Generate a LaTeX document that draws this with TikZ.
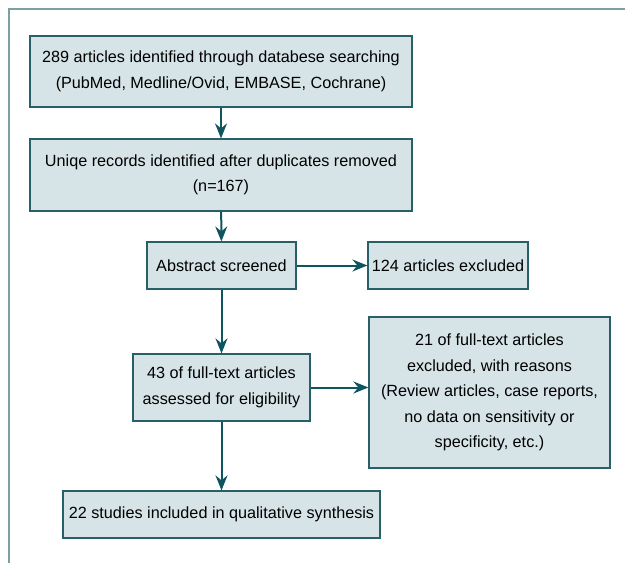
\documentclass[tikz,border=0pt]{standalone}
\usepackage{fontspec}
\setmainfont{Liberation Sans}
\usetikzlibrary{arrows.meta}
\definecolor{framec}{RGB}{122,160,166}
\definecolor{boxfill}{RGB}{214,228,231}
\definecolor{boxline}{RGB}{40,95,105}
\definecolor{arrowc}{RGB}{15,85,95}
\tikzset{
  flownode/.style = {align=center, inner sep=0pt, text centered,
    font=\fontsize{16.2}{25.5}\selectfont},
  fbox/.style = {flownode, rectangle, draw=boxline, fill=boxfill,
    line width=1.2pt},% boite grise
  fbox_w/.style = {fbox, minimum width=382pt, minimum height=71pt},% boite large
  fbox_s/.style = {fbox, minimum height=47pt}% boite basse
}
\begin{document}
\begin{tikzpicture}[x=1pt,y=-1pt,->,>={Stealth[length=15pt,width=12pt,inset=5pt]},
  every edge/.style={draw=arrowc, line width=2pt}]
\useasboundingbox (0,0) rectangle (625,563);
\draw[-, framec, line width=2pt] (8.5,563) -- (8.5,8.5) -- (625,8.5);
\node [fbox_w] (ident) at (221,71.5)
  {289 articles identified through databese searching\\(PubMed, Medline/Ovid, EMBASE, Cochrane)};
\node [fbox_w, minimum height=72pt] (uniq) at (221,175)
  {Uniqe records identified after duplicates removed\\(n=167)};
\node [fbox_s, minimum width=149pt] (abst) at (221.5,265.5) {Abstract screened};
\node [fbox_s, minimum width=160pt] (excl) at (448,265.5) {124 articles excluded};
\node [fbox, minimum width=177pt, minimum height=67pt] (full) at (221.5,387.5)
  {43 of full-text articles\\assessed for eligibility};
\node [fbox, minimum width=241pt, minimum height=151pt] (fexcl) at (489.5,392.5)
  {21 of full-text articles\\excluded, with reasons\\(Review articles, case reports,\\no data on sensitivity or\\specificity, etc.)};
\node [fbox_s, minimum width=317pt] (incl) at (221.5,514.5)
  {22 studies included in qualitative synthesis};
\path (ident) edge (uniq)
      (uniq) edge (abst)
      (abst) edge (excl)
      (abst) edge (full)
      (full) edge (full -| fexcl.west)
      (full) edge (incl);
\end{tikzpicture}
\end{document}
